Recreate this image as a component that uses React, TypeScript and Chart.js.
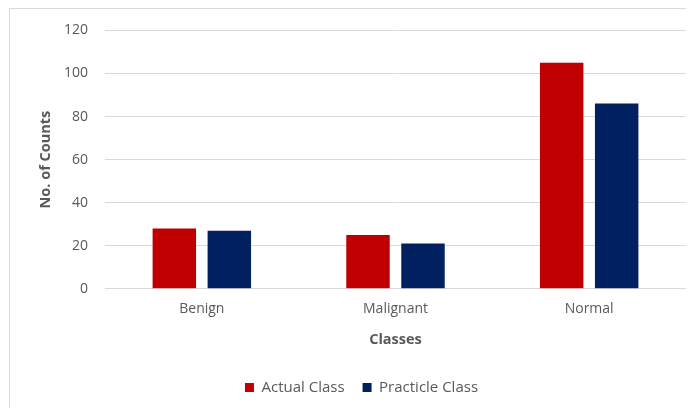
import React, { useEffect, useRef } from "react";
import { Chart, registerables } from "chart.js";

Chart.register(...registerables);

const categories = ["Benign", "Malignant", "Normal"];
const actualClass = [28, 25, 105];
const practicleClass = [27, 21, 86];
const yTicks = { min: 0, max: 120, step: 20 };

const FONT = "'Open Sans', 'Liberation Sans', sans-serif";
const TEXT = "#595959";

export default function App() {
  const ref = useRef<HTMLCanvasElement | null>(null);

  useEffect(() => {
    if (!ref.current) return;
    const chart = new Chart(ref.current, {
      type: "bar",
      data: {
        labels: categories,
        datasets: [
          {
            label: "Actual Class",
            data: actualClass,
            backgroundColor: "#C00000",
            categoryPercentage: 0.568,
            barPercentage: 0.79,
          },
          {
            label: "Practicle Class",
            data: practicleClass,
            backgroundColor: "#002060",
            categoryPercentage: 0.568,
            barPercentage: 0.79,
          },
        ],
      },
      options: {
        animation: false,
        responsive: false,
        maintainAspectRatio: false,
        layout: { padding: { left: 27, right: 27, top: 5, bottom: 0 } },
        plugins: {
          tooltip: { enabled: false },
          legend: {
            position: "bottom",
            labels: {
              boxWidth: 9,
              boxHeight: 9,
              padding: 18,
              color: TEXT,
              font: { family: FONT, size: 15 },
            },
          },
        },
        scales: {
          x: {
            grid: { display: false },
            border: { display: false },
            ticks: { color: TEXT, font: { family: FONT, size: 14 }, padding: 4 },
            title: {
              display: true,
              text: "Classes",
              color: TEXT,
              font: { family: FONT, size: 14.5, weight: "bold" },
              padding: { top: 10, bottom: 13 },
            },
          },
          y: {
            min: yTicks.min,
            max: yTicks.max,
            afterFit: (scale: any) => {
              scale.width = 68;
            },
            grid: { color: "#d9d9d9", drawTicks: false, lineWidth: 1 },
            border: { display: false },
            ticks: {
              stepSize: yTicks.step,
              color: TEXT,
              font: { family: FONT, size: 14 },
              padding: 17,
            },
            title: {
              display: true,
              text: "No. of Counts",
              color: TEXT,
              font: { family: FONT, size: 14.5, weight: "bold" },
              padding: { top: 0, bottom: 10 },
            },
          },
        },
      },
    });
    return () => chart.destroy();
  }, []);

  return (
    <div style={{ width: 686, height: 400, overflow: "hidden", position: "relative" }}>
      <div
        style={{
          position: "absolute",
          left: 1,
          top: 0,
          width: 703,
          height: 420,
          border: "1px solid #d9d9d9",
          background: "#fff",
        }}
      >
        <canvas
          ref={ref}
          width={703}
          height={400}
          style={{ display: "block", marginTop: -4 }}
        />
      </div>
    </div>
  );
}
